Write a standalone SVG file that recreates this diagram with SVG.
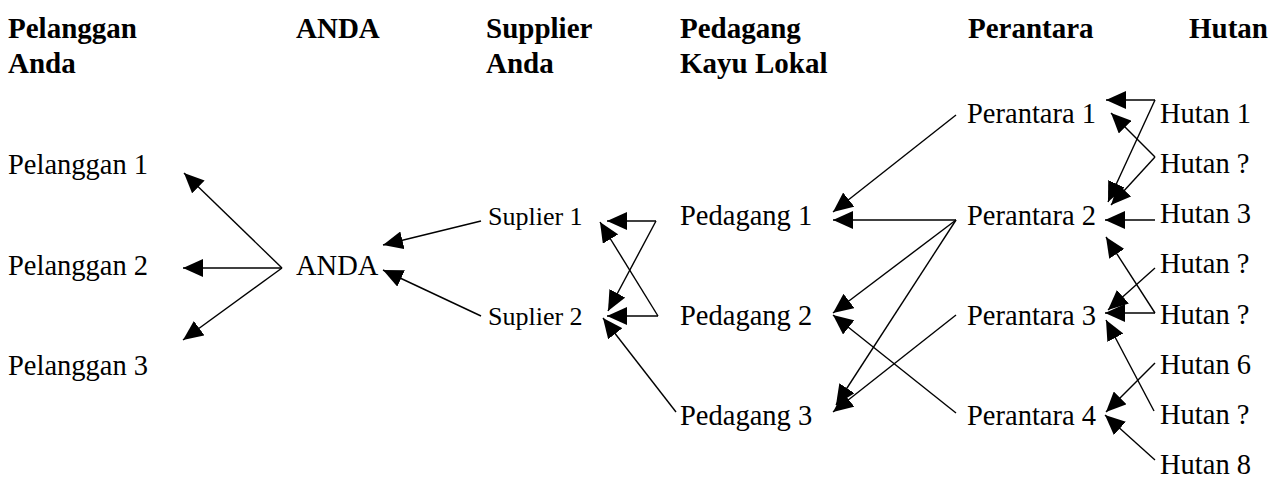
<svg xmlns="http://www.w3.org/2000/svg" width="1280" height="478" viewBox="0 0 1280 478">
<style>
.h{font-family:"Liberation Serif","Times New Roman",serif;font-weight:bold;font-size:29px;fill:#000}
.t{font-family:"Liberation Serif","Times New Roman",serif;font-size:28.5px;fill:#000}
.s{font-family:"Liberation Serif","Times New Roman",serif;font-size:26px;fill:#000}
.c line{stroke:#000;stroke-width:1.4;fill:none;marker-end:url(#ah)}
</style>
<defs>
<marker id="ah" viewBox="0 0 20 18" refX="20" refY="9" markerWidth="20" markerHeight="18" markerUnits="userSpaceOnUse" orient="auto">
<path d="M0,0 L20,9 L0,18 Z" fill="#000"/>
</marker>
</defs>
<rect width="1280" height="478" fill="#fff"/>
<g id="headers">
<text class="h" x="8" y="38">Pelanggan</text>
<text class="h" x="8" y="73">Anda</text>
<text class="h" x="296" y="38">ANDA</text>
<text class="h" x="486" y="38">Supplier</text>
<text class="h" x="486" y="73">Anda</text>
<text class="h" x="680" y="38">Pedagang</text>
<text class="h" x="680" y="73">Kayu Lokal</text>
<text class="h" x="968" y="38">Perantara</text>
<text class="h" x="1189" y="38">Hutan</text>
</g>
<g id="pelanggan1"><text class="t" x="8" y="174">Pelanggan 1</text></g>
<g id="pelanggan2"><text class="t" x="8" y="275">Pelanggan 2</text></g>
<g id="pelanggan3"><text class="t" x="8" y="375">Pelanggan 3</text></g>
<g id="anda"><text class="t" x="296" y="275">ANDA</text></g>
<g id="suplier1"><text class="s" x="488" y="225">Suplier 1</text></g>
<g id="suplier2"><text class="s" x="488" y="325">Suplier 2</text></g>
<g id="pedagang1"><text class="t" x="680" y="225">Pedagang 1</text></g>
<g id="pedagang2"><text class="t" x="680" y="325">Pedagang 2</text></g>
<g id="pedagang3"><text class="t" x="680" y="425">Pedagang 3</text></g>
<g id="perantara1"><text class="t" x="967" y="123">Perantara 1</text></g>
<g id="perantara2"><text class="t" x="967" y="225">Perantara 2</text></g>
<g id="perantara3"><text class="t" x="967" y="325">Perantara 3</text></g>
<g id="perantara4"><text class="t" x="967" y="425">Perantara 4</text></g>
<g id="hutan1"><text class="t" x="1160" y="123">Hutan 1</text></g>
<g id="hutanq1"><text class="t" x="1160" y="173">Hutan ?</text></g>
<g id="hutan3"><text class="t" x="1160" y="223">Hutan 3</text></g>
<g id="hutanq2"><text class="t" x="1160" y="273">Hutan ?</text></g>
<g id="hutanq3"><text class="t" x="1160" y="324">Hutan ?</text></g>
<g id="hutan6"><text class="t" x="1160" y="374">Hutan 6</text></g>
<g id="hutanq4"><text class="t" x="1160" y="424">Hutan ?</text></g>
<g id="hutan8"><text class="t" x="1160" y="474">Hutan 8</text></g>
<g id="connectors" class="c">
<line x1="282" y1="268" x2="184" y2="173"/>
<line x1="282" y1="268" x2="183" y2="268"/>
<line x1="282" y1="268" x2="183" y2="340"/>
<line x1="481" y1="221" x2="383" y2="245"/>
<line x1="481" y1="316" x2="383" y2="270"/>
<line x1="656" y1="221" x2="607" y2="221"/>
<line x1="656" y1="221" x2="608" y2="311"/>
<line x1="658" y1="316" x2="607" y2="316"/>
<line x1="658" y1="316" x2="600" y2="222"/>
<line x1="676" y1="412" x2="603" y2="318"/>
<line x1="956" y1="115" x2="833" y2="212"/>
<line x1="956" y1="220" x2="833" y2="220"/>
<line x1="956" y1="220" x2="833" y2="313"/>
<line x1="956" y1="220" x2="836" y2="405"/>
<line x1="956" y1="315" x2="833" y2="412"/>
<line x1="956" y1="413" x2="833" y2="315"/>
<line x1="1155" y1="100" x2="1106" y2="100"/>
<line x1="1155" y1="100" x2="1108" y2="202"/>
<line x1="1155" y1="157" x2="1111" y2="113"/>
<line x1="1155" y1="157" x2="1111" y2="205"/>
<line x1="1155" y1="220" x2="1105" y2="220"/>
<line x1="1155" y1="313" x2="1106" y2="237"/>
<line x1="1155" y1="268" x2="1108" y2="310"/>
<line x1="1155" y1="313" x2="1105" y2="313"/>
<line x1="1154" y1="411" x2="1106" y2="320"/>
<line x1="1155" y1="363" x2="1106" y2="412"/>
<line x1="1155" y1="460" x2="1105" y2="415"/>
</g>
</svg>
